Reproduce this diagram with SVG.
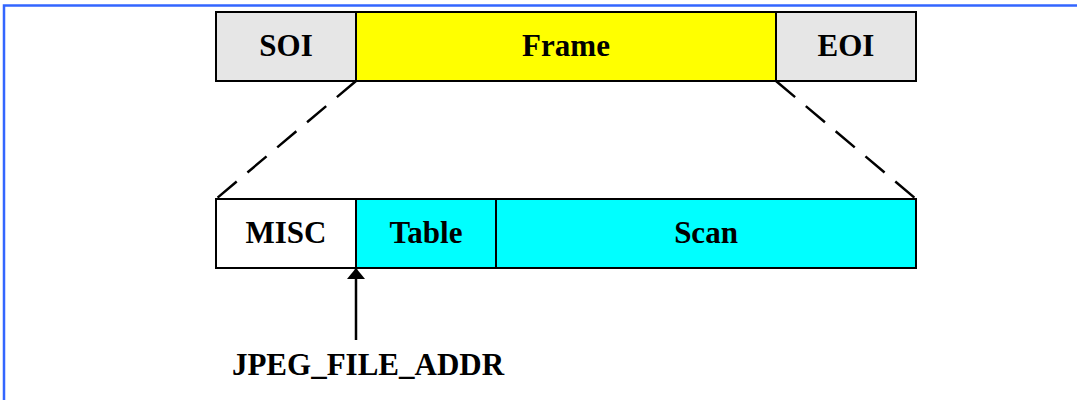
<svg xmlns="http://www.w3.org/2000/svg" width="1077" height="400" viewBox="0 0 1077 400">
<style>
.box{stroke:#000;stroke-width:2}
.lbl{font-family:"Liberation Serif",serif;font-weight:bold;font-size:31px;text-anchor:middle;fill:#000}
.dash{stroke:#000;stroke-width:2.5;stroke-dasharray:25 14;fill:none}
</style>
<defs>
<marker id="ah" markerWidth="11" markerHeight="18" refX="11" refY="9" orient="auto" markerUnits="userSpaceOnUse">
<path d="M0,0 L11,9 L0,18 Z" fill="#000"/>
</marker>
</defs>
<rect width="1077" height="400" fill="#fff"/>
<path d="M4,400 V5.5 H1077" fill="none" stroke="#3366FF" stroke-width="2.5"/>
<g id="soi"><rect class="box" x="216" y="12" width="140" height="69" fill="#E6E6E6"/><text class="lbl" x="286" y="56">SOI</text></g>
<g id="frame"><rect class="box" x="356" y="12" width="420" height="69" fill="#FFFF00"/><text class="lbl" x="566" y="56">Frame</text></g>
<g id="eoi"><rect class="box" x="776" y="12" width="140" height="69" fill="#E6E6E6"/><text class="lbl" x="846" y="56">EOI</text></g>
<g id="misc"><rect class="box" x="216" y="199" width="140" height="69" fill="#FFFFFF"/><text class="lbl" x="286" y="243">MISC</text></g>
<g id="table"><rect class="box" x="356" y="199" width="140" height="69" fill="#00FFFF"/><text class="lbl" x="426" y="243">Table</text></g>
<g id="scan"><rect class="box" x="496" y="199" width="420" height="69" fill="#00FFFF"/><text class="lbl" x="706" y="243">Scan</text></g>
<g id="connectors">
<line class="dash" x1="356" y1="81" x2="216" y2="199"/>
<line class="dash" x1="776" y1="81" x2="916" y2="199"/>
<line x1="356" y1="340" x2="356" y2="268" stroke="#000" stroke-width="2.5" marker-end="url(#ah)"/>
</g>
<g id="addr"><text class="lbl" x="368" y="375">JPEG_FILE_ADDR</text></g>
</svg>
